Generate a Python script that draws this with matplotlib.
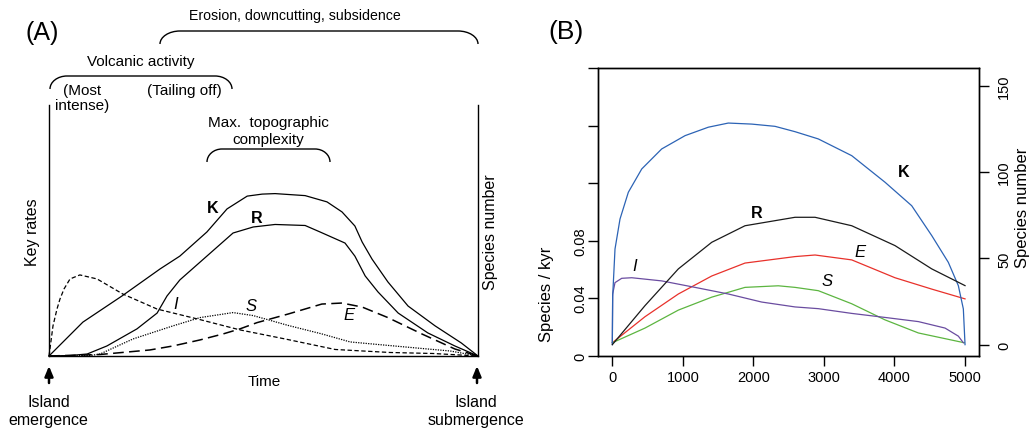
import matplotlib
matplotlib.use("Agg")
import matplotlib.pyplot as plt
from matplotlib.path import Path
from matplotlib.patches import PathPatch

plt.rcParams["font.family"] = ["Liberation Sans", "DejaVu Sans"]

# ---------------- panel A : conceptual curves (time 0-100, rate 0-100) ----------------
k_t = [0, 7.9, 17.0, 25.9, 30.5, 36.8, 41.5, 46.2, 49.7, 52.7, 59.7, 64.8, 68.3,
       71.3, 73.0, 75.3, 79.0, 83.7, 90.0, 96.1, 100]
k_h = [0, 13.5, 23.9, 34.7, 39.8, 49.4, 58.6, 63.7, 64.5, 64.7, 63.9, 61.4, 57.4,
       51.8, 45.4, 38.6, 29.5, 19.9, 12.0, 5.2, 0]

r_t = [0, 4.9, 8.9, 13.5, 20.5, 25.2, 27.5, 30.5, 36.8, 42.9, 47.6, 52.7, 59.7,
       63.2, 69.0, 71.3, 73.7, 76.7, 81.4, 88.3, 94.6, 100]
r_h = [0, 0.2, 0.8, 4.0, 10.8, 17.1, 23.9, 30.3, 39.8, 49.0, 51.4, 52.4, 52.0,
       49.4, 45.0, 39.8, 31.9, 25.5, 17.1, 9.2, 4.0, 0]

i_t = [0, 0.47, 0.93, 1.86, 2.56, 3.5, 4.9, 7.2, 11.2, 17.2, 25.2, 35.2, 44.5,
       55.0, 66.7, 79.5, 89.5, 100]
i_h = [0, 6.0, 12.0, 18.7, 22.7, 26.7, 30.7, 32.3, 30.7, 24.7, 18.7, 14.5, 10.4,
       6.8, 2.6, 1.4, 1.0, 0]

s_t = [0, 9.6, 11.9, 19.6, 28.9, 35.2, 42.9, 47.6, 55.7, 63.6, 70.2, 75.3, 86.9, 93.5, 100]
s_h = [0, 0.2, 0.8, 6.8, 12.0, 15.3, 17.3, 16.1, 12.2, 8.8, 5.6, 4.8, 3.0, 2.0, 0]

e_t = [0, 11.9, 23.5, 28.9, 35.2, 40.6, 44.5, 48.5, 55.7, 63.6, 68.3, 73.0, 79.0,
       86.9, 94.6, 100]
e_h = [0, 0.6, 2.4, 4.0, 6.4, 8.8, 10.8, 13.3, 16.7, 20.7, 21.1, 19.5, 15.3,
       8.8, 2.8, 0]

# ---------------- panel B : simulated island (time in kyr) ----------------
kb_t = [0, 5, 38, 109, 227, 417, 700, 1031, 1361, 1644, 1976, 2306, 2590, 2920,
        3394, 3866, 4244, 4528, 4763, 4905, 4976, 5000]
kb_n = [0, 28, 55.4, 72.8, 88.3, 101.8, 113.4, 121.1, 126.0, 128.4, 127.8, 126.5,
        123.4, 119.2, 109.5, 94.1, 80.5, 63.2, 47.7, 34.2, 20.7, 0]

rb_t = [0, 463, 936, 1409, 1881, 2590, 2874, 3394, 4007, 4528, 5000]
rb_n = [0, 22.6, 43.9, 59.3, 68.9, 73.8, 73.8, 68.9, 57.4, 43.9, 34.2]

eb_t = [0, 463, 936, 1409, 1881, 2590, 2874, 3394, 4007, 4528, 5000]
eb_v = [0.009, 0.0271, 0.0429, 0.0554, 0.0644, 0.0689, 0.0700, 0.0666, 0.0542, 0.0463, 0.0395]

sb_t = [0, 463, 936, 1409, 1881, 2353, 2590, 2920, 3394, 3866, 4339, 4990]
sb_v = [0.009, 0.0192, 0.0317, 0.0407, 0.0475, 0.0486, 0.0475, 0.0452, 0.0361,
        0.0249, 0.0158, 0.009]

ib_t = [0, 5, 38, 133, 275, 700, 1172, 1644, 2117, 2590, 2920, 3394, 3866, 4339,
        4717, 4905, 4976]
ib_v = [0.009, 0.0429, 0.0508, 0.0538, 0.0542, 0.0520, 0.0475, 0.0429, 0.0373,
        0.0339, 0.0327, 0.0294, 0.0266, 0.0237, 0.0192, 0.0136, 0.009]

left_ticks = [0, 0.04, 0.08, 0.12, 0.16, 0.20]
left_labels = ["0", "0.04", "0.08", "", "", ""]
right_ticks = [0, 50, 100, 150]
x_ticks = [0, 1000, 2000, 3000, 4000, 5000]

W, H = 1032, 431
fig = plt.figure(figsize=(W / 100, H / 100), dpi=100)


def rect(x0, y0, x1, y1):
    return [x0 / W, 1 - y1 / H, (x1 - x0) / W, (y1 - y0) / H]


# overlay in pixel units for the free text
ov = fig.add_axes([0, 0, 1, 1], zorder=-1)
ov.set_xlim(0, W)
ov.set_ylim(H, 0)
ov.axis("off")

fs = 11      # annotation text
fl = 11.5    # axis titles

# ---------------- panel A ----------------
axA = fig.add_axes(rect(49, 106, 478, 357))
axA.set_xlim(0, 100)
axA.set_ylim(0, 100)
axA.spines["top"].set_visible(False)
for s in ["left", "right", "bottom"]:
    axA.spines[s].set_linewidth(1.0)
axA.set_xticks([])
axA.set_yticks([])
axA.patch.set_alpha(0)

lw = 0.9
axA.plot(k_t, k_h, color="k", lw=lw, clip_on=False)
axA.plot(r_t, r_h, color="k", lw=lw, clip_on=False)
axA.plot(i_t, i_h, color="k", lw=lw, dashes=(3.5, 2), clip_on=False)
axA.plot(s_t, s_h, color="k", lw=lw, dashes=(1, 1), clip_on=False)
axA.plot(e_t, e_h, color="k", lw=1.1, dashes=(7, 3.5), clip_on=False)

axA.text(38.2, 59.0, "K", fontsize=11.5, fontweight="bold", ha="center", va="center")
axA.text(48.3, 55.0, "R", fontsize=11.5, fontweight="bold", ha="center", va="center")
axA.text(29.6, 21.1, "I", fontsize=12, style="italic", ha="center", va="center")
axA.text(47.1, 20.3, "S", fontsize=12, style="italic", ha="center", va="center")
axA.text(69.9, 16.7, "E", fontsize=12, style="italic", ha="center", va="center")

ov.text(42, 33, "(A)", fontsize=18, ha="center", va="center")
ov.text(295, 16, "Erosion, downcutting, subsidence", fontsize=10.2, ha="center", va="center")
ov.text(141, 62, "Volcanic activity", fontsize=fs, ha="center", va="center")
ov.text(82, 91, "(Most", fontsize=fs, ha="center", va="center")
ov.text(82, 106, "intense)", fontsize=fs, ha="center", va="center")
ov.text(184, 91, "(Tailing off)", fontsize=fs, ha="center", va="center")
ov.text(268, 123, "Max.  topographic", fontsize=fs, ha="center", va="center")
ov.text(268, 140, "complexity", fontsize=fs, ha="center", va="center")
ov.text(33, 232, "Key rates", fontsize=fl, rotation=90, ha="center", va="center")
ov.text(491, 232, "Species number", fontsize=fl, rotation=90, ha="center", va="center")
ov.text(264, 382, "Time", fontsize=fs, ha="center", va="center")
ov.text(48.5, 403, "Island", fontsize=fl, ha="center", va="center")
ov.text(48.5, 421, "emergence", fontsize=fl, ha="center", va="center")
ov.text(475.5, 403, "Island", fontsize=fl, ha="center", va="center")
ov.text(475.5, 421, "submergence", fontsize=fl, ha="center", va="center")

for ax_x in [49, 477]:
    ov.annotate("", xy=(ax_x, 367), xytext=(ax_x, 384),
                arrowprops=dict(arrowstyle="-|>,head_length=0.6,head_width=0.25",
                                lw=1.8, color="k", shrinkA=0, shrinkB=0))


def bracket(x0, x1, y0, dh, rw):
    k = 0.45
    verts = [(x0, y0 + dh), (x0, y0 + dh * k), (x0 + rw * k, y0), (x0 + rw, y0),
             (x1 - rw, y0),
             (x1 - rw * k, y0), (x1, y0 + dh * k), (x1, y0 + dh)]
    codes = [Path.MOVETO, Path.CURVE4, Path.CURVE4, Path.CURVE4, Path.LINETO,
             Path.CURVE4, Path.CURVE4, Path.CURVE4]
    ov.add_patch(PathPatch(Path(verts, codes), fill=False, lw=1.0, color="k"))


bracket(160, 478, 32, 13, 20)
bracket(50, 232, 77, 13, 17)
bracket(207, 330, 150, 13, 15)

# ---------------- panel B ----------------
axB = fig.add_axes(rect(598, 69, 979, 356.7))
axB.set_xlim(-203, 5198)
axB.set_ylim(0.0022, 0.197)
axR = axB.twinx()
axR.set_ylim(-6.4, 160.3)

for a in (axB, axR):
    for s in a.spines.values():
        s.set_linewidth(1.0)
axB.spines["left"].set_bounds(0, 0.20)

axB.set_xticks(x_ticks)
axB.set_xticklabels([str(v) for v in x_ticks])
axB.set_yticks(left_ticks)
axB.set_yticklabels(left_labels, rotation=90, va="center")
axR.set_yticks(right_ticks)
axR.set_yticklabels([str(v) for v in right_ticks], rotation=90, va="center")
axB.tick_params(axis="x", length=7, width=1.0, pad=3, labelsize=10.5)
axB.tick_params(axis="y", length=7, width=1.0, pad=0.5, labelsize=10.5)
axR.tick_params(axis="y", length=7.5, width=1.0, pad=5.5, labelsize=10.5)
for t in axB.yaxis.get_major_ticks() + axB.xaxis.get_major_ticks():
    t.tick1line.set_clip_on(False)

lb = 0.9
axR.plot(kb_t, kb_n, color="#2c63b5", lw=lb)
axR.plot(rb_t, rb_n, color="#1a1a1a", lw=lb)
axB.plot(eb_t, eb_v, color="#e8312b", lw=lb)
axB.plot(sb_t, sb_v, color="#5cb540", lw=lb)
axB.plot(ib_t, ib_v, color="#6a4ca0", lw=lb)

axR.text(4125, 100.2, "K", fontsize=11.5, fontweight="bold", ha="center", va="center")
axR.text(2045, 76.5, "R", fontsize=11.5, fontweight="bold", ha="center", va="center")
axB.text(3511, 0.0727, "E", fontsize=12, style="italic", ha="center", va="center")
axB.text(3039, 0.0520, "S", fontsize=12, style="italic", ha="center", va="center")
axB.text(312, 0.0629, "I", fontsize=12, style="italic", ha="center", va="center")

ov.text(566, 32, "(B)", fontsize=19, ha="center", va="center")
ov.text(547, 294, "Species / kyr", fontsize=12, rotation=90, ha="center", va="center")
ov.text(1022, 208, "Species number", fontsize=12, rotation=90, ha="center", va="center")

fig.savefig("out.png", dpi=100)
